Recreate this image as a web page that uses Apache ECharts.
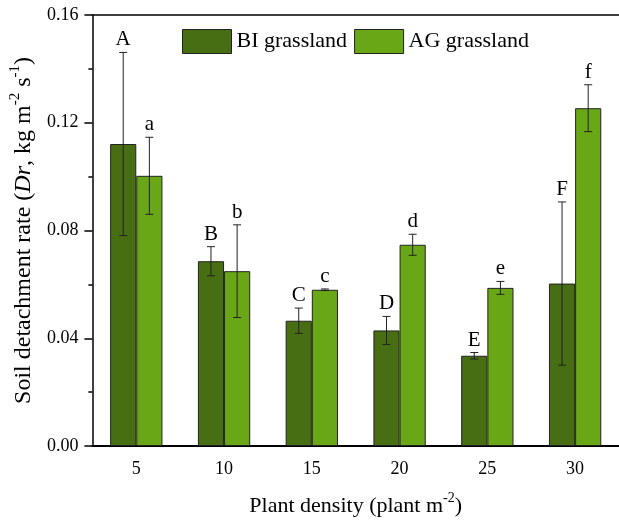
<!DOCTYPE html>
<html>
<head>
<meta charset="utf-8">
<script src="https://cdn.jsdelivr.net/npm/echarts@6/dist/echarts.min.js"></script>
<style>
  html, body { margin: 0; padding: 0; background: #fff; }
  #chart { width: 619px; height: 522px; }
</style>
</head>
<body>
<div id="chart"></div>
<script>
// Plant density groups (plant m-2)
const densities = ['5', '10', '15', '20', '25', '30'];

// Soil detachment rate, mean and standard deviation (kg m-2 s-1)
const biMean = [0.1121, 0.0686, 0.0465, 0.0429, 0.0335, 0.0603];
const biSd   = [0.0340, 0.0054, 0.0047, 0.0052, 0.0012, 0.0303];
const agMean = [0.1003, 0.0649, 0.0580, 0.0747, 0.0587, 0.1254];
const agSd   = [0.0143, 0.0172, 0.0003, 0.0039, 0.0024, 0.0087];

// Significance letters
const biLetters = ['A', 'B', 'C', 'D', 'E', 'F'];
const agLetters = ['a', 'b', 'c', 'd', 'e', 'f'];

const yTicks = { min: 0, max: 0.16, interval: 0.04 };

const FONT = '"Liberation Serif", "Times New Roman", serif';
const BI_COLOR = '#476e12';
const AG_COLOR = '#6aa716';
const BAR_FRAC = 0.298; // bar width as a share of one category band

const chart = echarts.init(document.getElementById('chart'));

// Error bar with cap plus the letter above, shifted onto its own bar
function errorRenderer(means, sds, letters, side) {
  return function (params, api) {
    const i = api.value(0);
    const band = api.size([1, 0])[0];
    const dx = side * band * BAR_FRAC / 2;
    const top = api.coord([i, means[i] + sds[i]]);
    const bot = api.coord([i, means[i] - sds[i]]);
    const x = top[0] + dx;
    const cap = 4;
    const stroke = { stroke: '#222', lineWidth: 1 };
    return {
      type: 'group',
      children: [
        { type: 'line', shape: { x1: x, y1: top[1], x2: x, y2: bot[1] }, style: stroke },
        { type: 'line', shape: { x1: x - cap, y1: top[1], x2: x + cap, y2: top[1] }, style: stroke },
        { type: 'line', shape: { x1: x - cap, y1: bot[1], x2: x + cap, y2: bot[1] }, style: stroke },
        {
          type: 'text',
          style: {
            x: x, y: top[1] - 2,
            text: letters[i],
            fill: '#000',
            font: '21px ' + FONT,
            textAlign: 'center',
            textVerticalAlign: 'bottom'
          }
        }
      ]
    };
  };
}

const errData = densities.map((d, i) => [i]);

chart.setOption({
  animation: false,
  backgroundColor: '#fff',
  textStyle: { fontFamily: FONT },
  grid: { left: 91, top: 15, bottom: 75, right: -9, containLabel: false },
  legend: {
    data: ['BI grassland', 'AG grassland'],
    icon: 'rect',
    left: 182, top: 29, padding: 0,
    itemWidth: 49, itemHeight: 24, itemGap: 7,
    textStyle: { fontFamily: FONT, fontSize: 22, color: '#000' },
    itemStyle: { borderColor: '#222', borderWidth: 1 }
  },
  xAxis: [
    {
      type: 'category',
      data: densities,
      position: 'bottom',
      name: '{n|Plant density (plant m}{s|-2}{n|)}',
      nameLocation: 'middle',
      nameGap: 45,
      nameTextStyle: {
        rich: {
          n: { fontFamily: FONT, fontSize: 22, color: '#000', lineHeight: 26, verticalAlign: 'bottom' },
          s: { fontFamily: FONT, fontSize: 14, color: '#000', lineHeight: 26, verticalAlign: 'top' }
        }
      },
      axisLine: { lineStyle: { color: '#000', width: 2 } },
      axisTick: { alignWithLabel: true, length: 8, lineStyle: { color: '#000', width: 1.5 } },
      axisLabel: { fontFamily: FONT, fontSize: 18, color: '#000', margin: 14 },
      splitLine: { show: false }
    },
    {
      // boundary minor ticks between groups
      type: 'category',
      data: densities,
      position: 'bottom',
      axisLine: { show: false },
      axisTick: { alignWithLabel: false, length: 4, lineStyle: { color: '#000', width: 1.5 } },
      axisLabel: { show: false },
      splitLine: { show: false }
    },
    {
      // top frame
      type: 'category',
      data: densities,
      position: 'top',
      axisLine: { lineStyle: { color: '#000', width: 1.5 } },
      axisTick: { show: false },
      axisLabel: { show: false },
      splitLine: { show: false }
    }
  ],
  yAxis: {
    type: 'value',
    min: yTicks.min, max: yTicks.max, interval: yTicks.interval,
    name: '{n|Soil detachment rate (}{i|Dr}{n|, kg m}{s|-2}{n| s}{s|-1}{n|)}',
    nameLocation: 'middle',
    nameGap: 51,
    nameTextStyle: {
      rich: {
        n: { fontFamily: FONT, fontSize: 24, color: '#000', lineHeight: 28, verticalAlign: 'bottom' },
        i: { fontFamily: FONT, fontSize: 24, fontStyle: 'italic', color: '#000', lineHeight: 28, verticalAlign: 'bottom' },
        s: { fontFamily: FONT, fontSize: 15, color: '#000', lineHeight: 28, verticalAlign: 'top' }
      }
    },
    axisLine: { show: true, lineStyle: { color: '#000', width: 1.5 } },
    axisTick: { show: true, length: 8, lineStyle: { color: '#000', width: 1.5 } },
    minorTick: { show: true, splitNumber: 2, length: 4, lineStyle: { color: '#000', width: 1.5 } },
    axisLabel: {
      fontFamily: FONT, fontSize: 18, color: '#000', margin: 14,
      formatter: v => v.toFixed(2)
    },
    splitLine: { show: false }
  },
  series: [
    {
      name: 'BI grassland',
      type: 'bar',
      data: biMean,
      barWidth: (BAR_FRAC * 100) + '%',
      barGap: '0%',
      itemStyle: { color: BI_COLOR, borderColor: '#222', borderWidth: 1 },
      z: 2
    },
    {
      name: 'AG grassland',
      type: 'bar',
      data: agMean,
      barWidth: (BAR_FRAC * 100) + '%',
      barGap: '0%',
      itemStyle: { color: AG_COLOR, borderColor: '#222', borderWidth: 1 },
      z: 2
    },
    {
      name: 'BI error',
      type: 'custom',
      data: errData,
      renderItem: errorRenderer(biMean, biSd, biLetters, -1),
      encode: { x: 0 },
      z: 3, silent: true
    },
    {
      name: 'AG error',
      type: 'custom',
      data: errData,
      renderItem: errorRenderer(agMean, agSd, agLetters, 1),
      encode: { x: 0 },
      z: 3, silent: true
    }
  ]
});
</script>
</body>
</html>
